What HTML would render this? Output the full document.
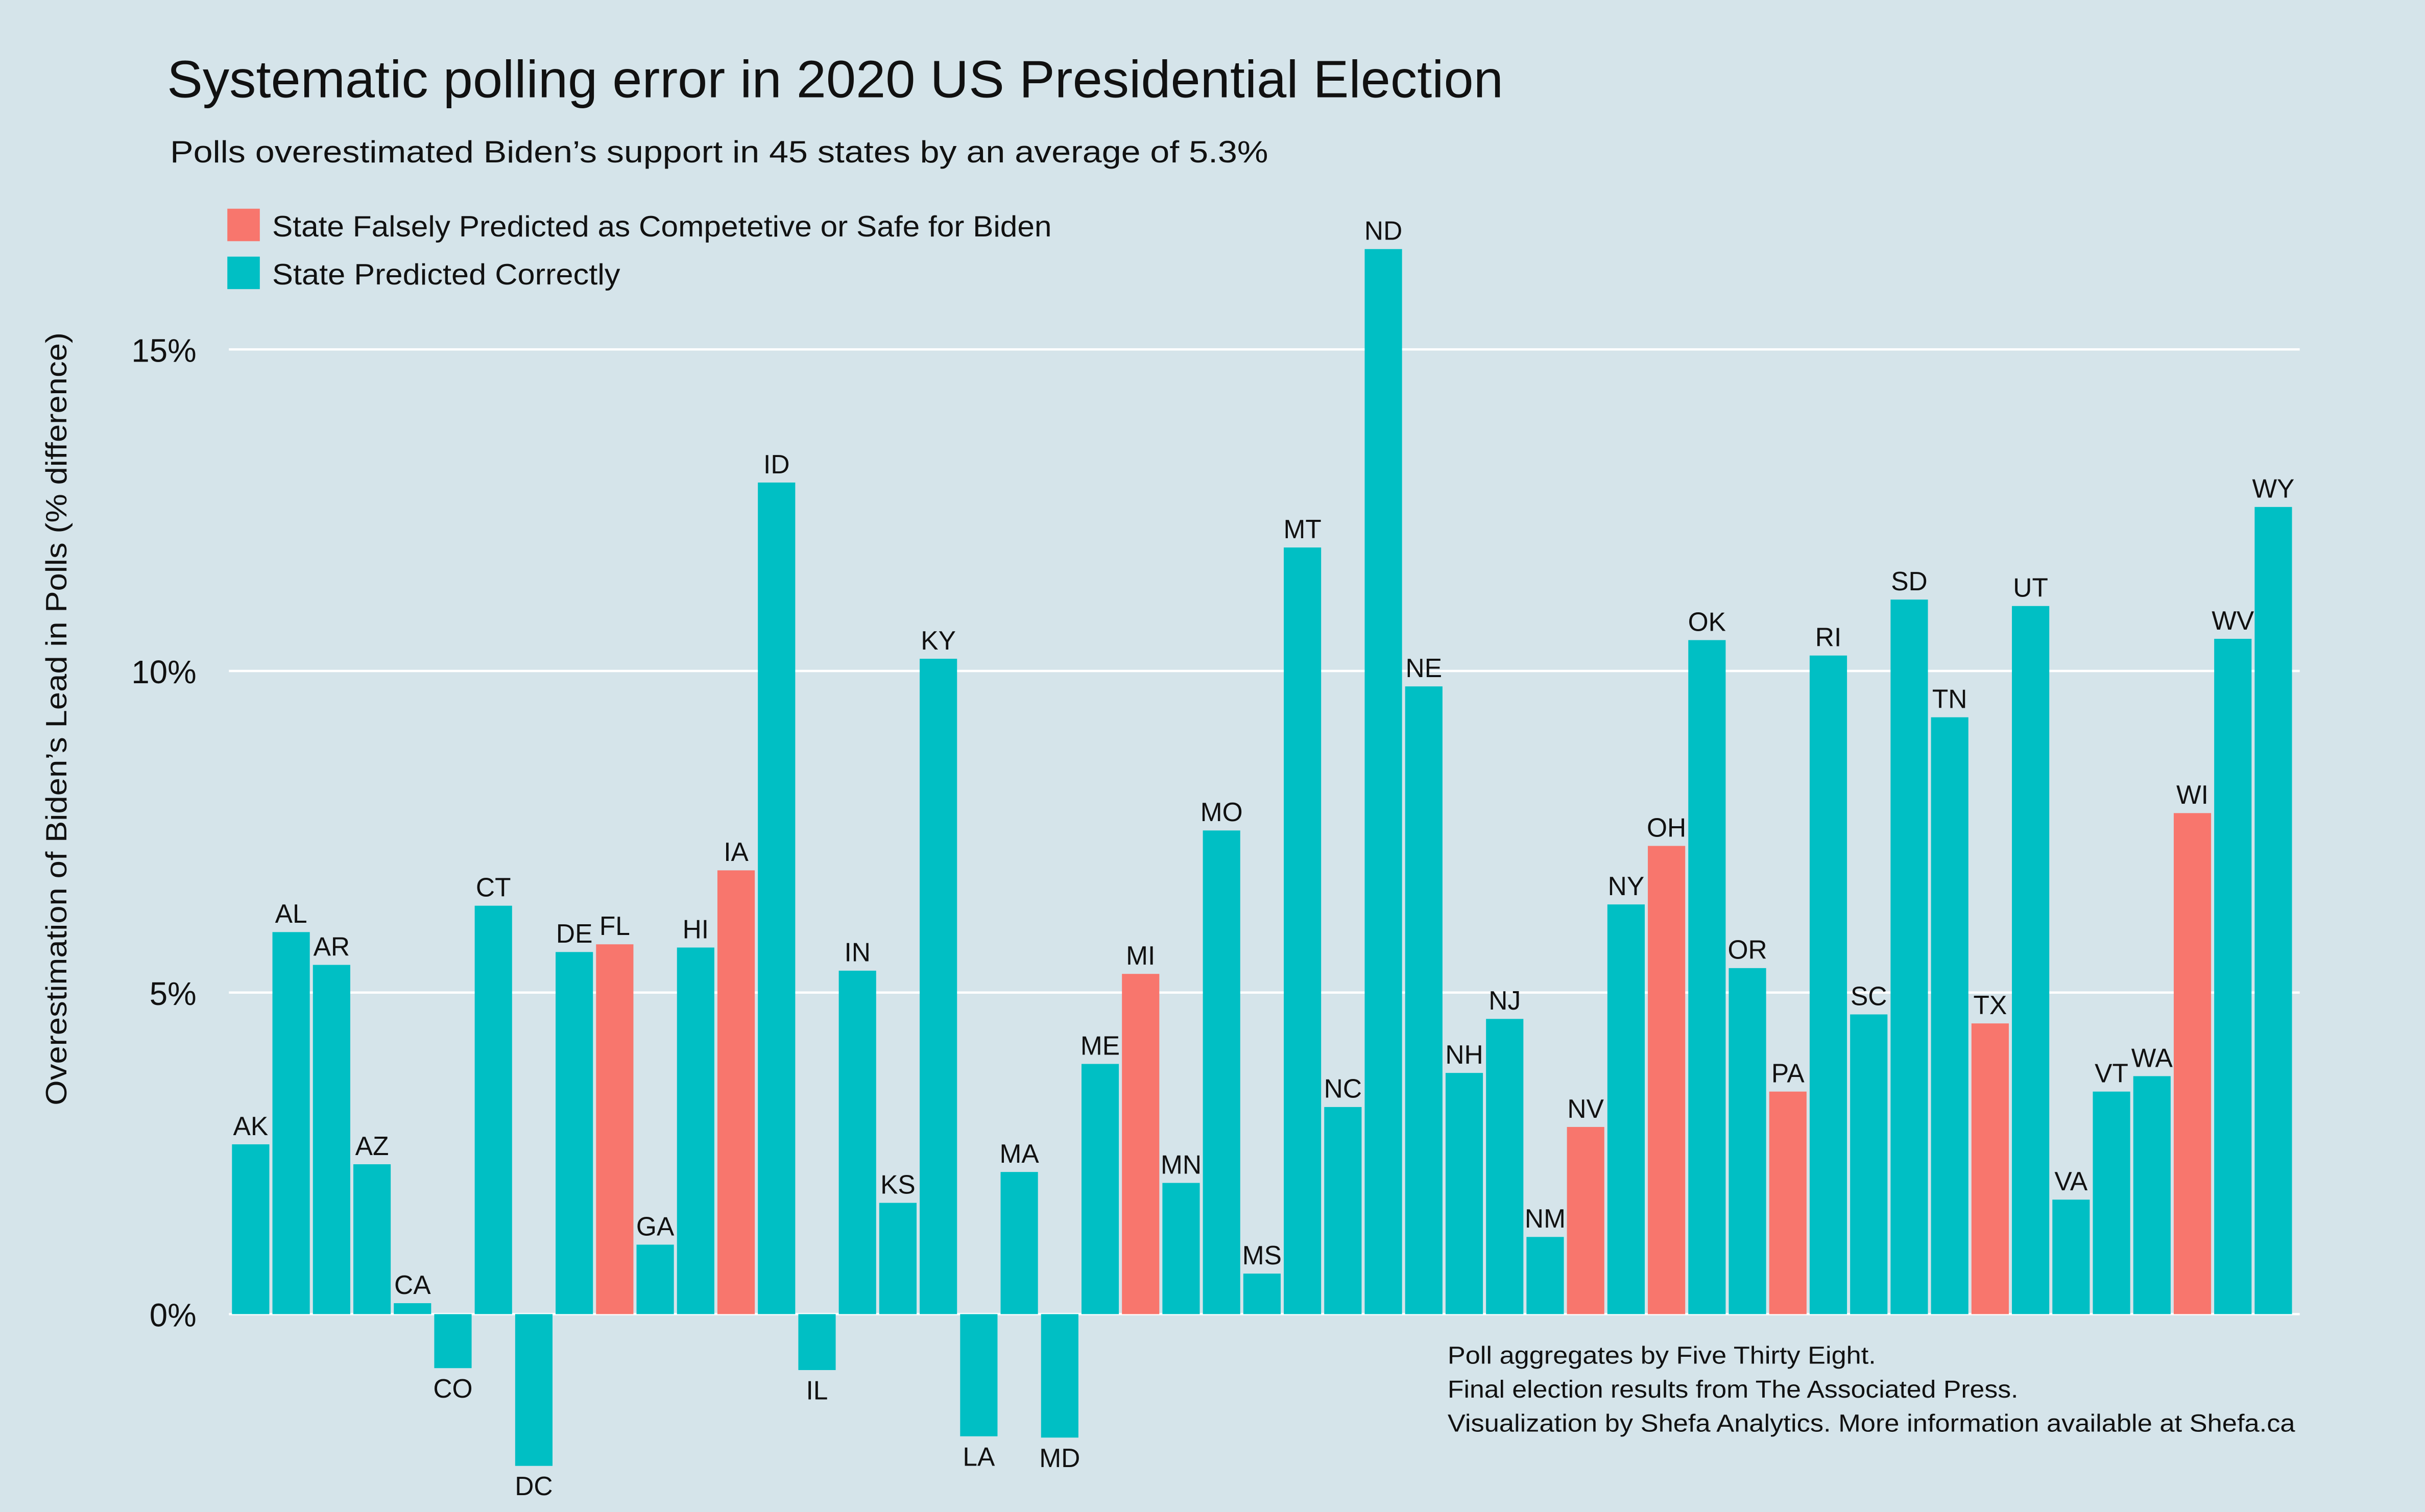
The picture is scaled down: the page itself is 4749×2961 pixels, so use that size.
<!DOCTYPE html>
<html><head><meta charset="utf-8"><style>
html,body{margin:0;padding:0;background:#d5e4ea;}
svg{display:block;font-family:"Liberation Sans",sans-serif;}
</style></head><body>
<svg id="chart" width="4749" height="2961" viewBox="0 0 1568 978" preserveAspectRatio="none" xmlns="http://www.w3.org/2000/svg">
<rect x="0" y="0" width="1568" height="978" fill="#d5e4ea"/>
<text x="108" y="63" font-size="34" fill="#111" textLength="864" lengthAdjust="spacingAndGlyphs">Systematic polling error in 2020 US Presidential Election</text>
<text x="110" y="105" font-size="20" fill="#111" textLength="710" lengthAdjust="spacingAndGlyphs">Polls overestimated Biden’s support in 45 states by an average of 5.3%</text>
<g>
<rect x="147" y="135" width="21" height="21" fill="#f8766d"/>
<text x="176" y="153" font-size="19" fill="#111" textLength="504" lengthAdjust="spacingAndGlyphs">State Falsely Predicted as Competetive or Safe for Biden</text>
<rect x="147" y="166" width="21" height="21" fill="#00bfc4"/>
<text x="176" y="184" font-size="19" fill="#111" textLength="225" lengthAdjust="spacingAndGlyphs">State Predicted Correctly</text>
</g>
<text transform="translate(43,465) rotate(-90)" text-anchor="middle" font-size="19" fill="#111" textLength="500" lengthAdjust="spacingAndGlyphs">Overestimation of Biden’s Lead in Polls (% difference)</text>
<g id="grid"></g>
<g id="bars"></g>
<g font-size="16" fill="#111">
<text x="936" y="882" textLength="277" lengthAdjust="spacingAndGlyphs">Poll aggregates by Five Thirty Eight.</text>
<text x="936" y="904" textLength="369" lengthAdjust="spacingAndGlyphs">Final election results from The Associated Press.</text>
<text x="936" y="926" textLength="548" lengthAdjust="spacingAndGlyphs">Visualization by Shefa Analytics. More information available at Shefa.ca</text>
</g>
</svg>
<script>
const states=["AK","AL","AR","AZ","CA","CO","CT","DC","DE","FL","GA","HI","IA","ID","IL","IN","KS","KY","LA","MA","MD","ME","MI","MN","MO","MS","MT","NC","ND","NE","NH","NJ","NM","NV","NY","OH","OK","OR","PA","RI","SC","SD","TN","TX","UT","VA","VT","WA","WI","WV","WY"];
const values=[2.64,5.94,5.43,2.33,0.17,-0.84,6.35,-2.36,5.63,5.75,1.08,5.70,6.90,12.93,-0.87,5.34,1.73,10.19,-1.90,2.21,-1.92,3.89,5.29,2.04,7.52,0.63,11.92,3.22,16.56,9.76,3.75,4.59,1.20,2.91,6.37,7.28,10.48,5.38,3.46,10.24,4.66,11.11,9.28,4.52,11.01,1.78,3.46,3.70,7.79,10.50,12.55];
const falsePredicted=["FL","IA","MI","NV","OH","PA","TX","WI"];
const ticks=[0,5,10,15];
const tickLabels=["0%","5%","10%","15%"];
const NS="http://www.w3.org/2000/svg";
const y=v=>850-v*41.6;
const x0=150,step=(1484-150)/states.length;
const x=i=>x0+i*step;
const grid=document.getElementById('grid'),bars=document.getElementById('bars');
ticks.forEach((t,k)=>{
 const l=document.createElementNS(NS,'line');
 l.setAttribute('x1',148);l.setAttribute('x2',1487);l.setAttribute('y1',y(t));l.setAttribute('y2',y(t));
 l.setAttribute('stroke','#fff');l.setAttribute('stroke-width',1.5);
 
 
 grid.appendChild(l);
 const tx=document.createElementNS(NS,'text');
 tx.setAttribute('x',127);tx.setAttribute('y',y(t)+8);tx.setAttribute('text-anchor','end');tx.setAttribute('font-size',21);tx.setAttribute('fill','#111');
 tx.textContent=tickLabels[k];
 
 
 grid.appendChild(tx);
});
states.forEach((s,i)=>{
 const v=values[i];
 const r=document.createElementNS(NS,'rect');
 const w=step-2;
 r.setAttribute('x',x(i));r.setAttribute('width',w);
 r.setAttribute('y',Math.min(y(v),y(0)));r.setAttribute('height',Math.abs(y(v)-y(0)));
 r.setAttribute('fill',falsePredicted.includes(s)?'#f8766d':'#00bfc4');
 
 
 bars.appendChild(r);
 const t=document.createElementNS(NS,'text');
 t.setAttribute('x',x(i)+w/2);t.setAttribute('text-anchor','middle');t.setAttribute('font-size',17);t.setAttribute('fill','#111');
 t.setAttribute('y',v>=0?y(v)-6:y(v)+19);
 t.textContent=s;
 
 
 bars.appendChild(t);
});
</script>
</body></html>
